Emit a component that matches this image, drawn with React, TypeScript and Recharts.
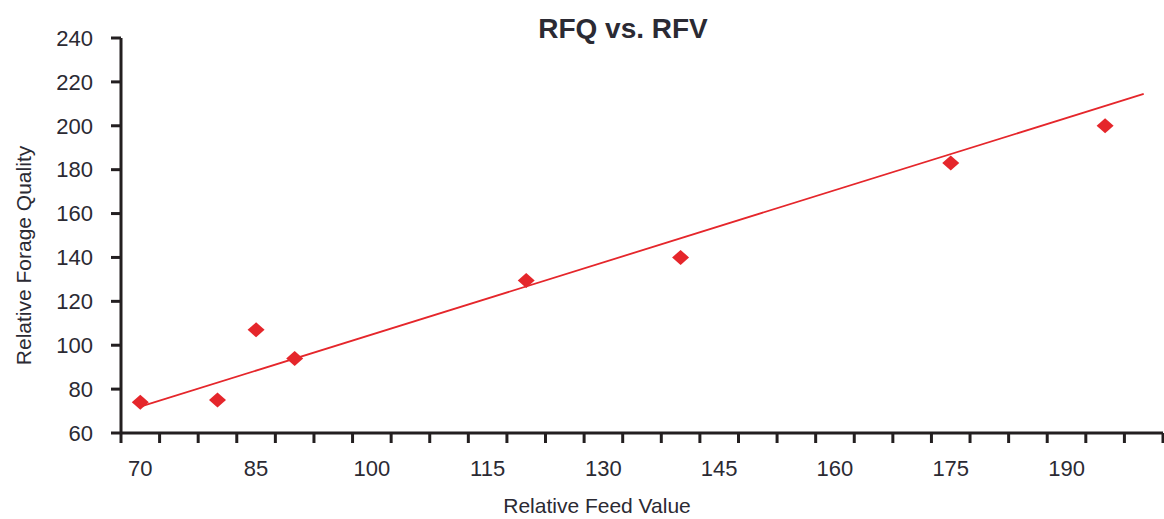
import React from 'react';
import { ComposedChart, Scatter, XAxis, YAxis } from 'recharts';

const rfv = [70, 80, 85, 90, 120, 140, 175, 195];
const rfq = [74, 75, 107, 94, 129.5, 140, 183, 200];
const trendRfv = [70, 200];
const trendRfq = [72, 214.5];
const yTicks = [60, 80, 100, 120, 140, 160, 180, 200, 220, 240];
const xLabelTicks = [70, 85, 100, 115, 130, 145, 160, 175, 190];
const xMinorTicks = [67.5, 72.5, 77.5, 82.5, 87.5, 92.5, 97.5, 102.5, 107.5, 112.5, 117.5, 122.5, 127.5, 132.5, 137.5, 142.5, 147.5, 152.5, 157.5, 162.5, 167.5, 172.5, 177.5, 182.5, 187.5, 192.5, 197.5, 202.5];

const points = rfv.map((x, i) => ({ x, y: rfq[i] }));
const trend = trendRfv.map((x, i) => ({ x, y: trendRfq[i] }));
const allXTicks = [...xMinorTicks, ...xLabelTicks].sort((a, b) => a - b);

const FONT = "'Liberation Sans', Arial, sans-serif";
const TEXT = '#2b2a33';
const AXIS = '#231f20';
const RED = '#e5262b';

const Diamond = (props: any) => {
  const { cx, cy } = props;
  if (cx == null || cy == null) return null;
  return (
    <polygon
      points={`${cx},${cy - 7.5} ${cx + 8.5},${cy} ${cx},${cy + 7.5} ${cx - 8.5},${cy}`}
      fill={RED}
    />
  );
};

const XTick = (props: any) => {
  const { x, y, payload } = props;
  const v = payload.value;
  if (xLabelTicks.includes(v)) {
    return (
      <text x={x} y={y + 43} textAnchor="middle" fontSize={22} fontFamily={FONT} fill={TEXT}>
        {v}
      </text>
    );
  }
  return <line x1={x} y1={y} x2={x} y2={y + 10} stroke={AXIS} strokeWidth={3} />;
};

const XLabel = (props: any) => {
  const { viewBox } = props;
  return (
    <text
      x={viewBox.x + viewBox.width / 2 - 45}
      y={viewBox.y + 80}
      textAnchor="middle"
      fontSize={21}
      fontFamily={FONT}
      fill={TEXT}
    >
      Relative Feed Value
    </text>
  );
};

const YLabel = (props: any) => {
  const { viewBox } = props;
  const cx = 23;
  const cy = viewBox.y + viewBox.height / 2 + 20;
  return (
    <text
      x={cx}
      y={cy}
      transform={`rotate(-90, ${cx}, ${cy})`}
      textAnchor="middle"
      dominantBaseline="central"
      fontSize={21}
      fontFamily={FONT}
      fill={TEXT}
    >
      Relative Forage Quality
    </text>
  );
};

export default function App() {
  return (
    <div style={{ position: 'absolute', left: 0, top: 0, width: 1164, height: 519, background: '#fff' }}>
      <ComposedChart width={1164} height={519} margin={{ top: 38, right: 1, bottom: 0, left: 0 }}>
        <text
          x={623}
          y={38}
          textAnchor="middle"
          fontSize={28}
          fontWeight="bold"
          fontFamily={FONT}
          fill={TEXT}
        >
          RFQ vs. RFV
        </text>
        <XAxis
          type="number"
          dataKey="x"
          domain={[67.5, 202.5]}
          ticks={allXTicks}
          interval={0}
          height={86}
          tickSize={0}
          tickMargin={0}
          tickLine={false}
          tick={<XTick />}
          axisLine={{ stroke: AXIS, strokeWidth: 3 }}
          allowDataOverflow
          label={<XLabel />}
        />
        <YAxis
          type="number"
          dataKey="y"
          domain={[60, 240]}
          ticks={yTicks}
          interval={0}
          width={121}
          tickSize={10}
          tickMargin={18}
          tickLine={{ stroke: AXIS, strokeWidth: 3 }}
          axisLine={{ stroke: AXIS, strokeWidth: 3 }}
          tick={{ fontSize: 22, fontFamily: FONT, fill: TEXT }}
          allowDataOverflow
          label={<YLabel />}
        />
        <Scatter
          data={trend}
          line={{ stroke: RED, strokeWidth: 1.8 }}
          shape={() => null}
          isAnimationActive={false}
        />
        <Scatter data={points} shape={<Diamond />} isAnimationActive={false} />
      </ComposedChart>
    </div>
  );
}
